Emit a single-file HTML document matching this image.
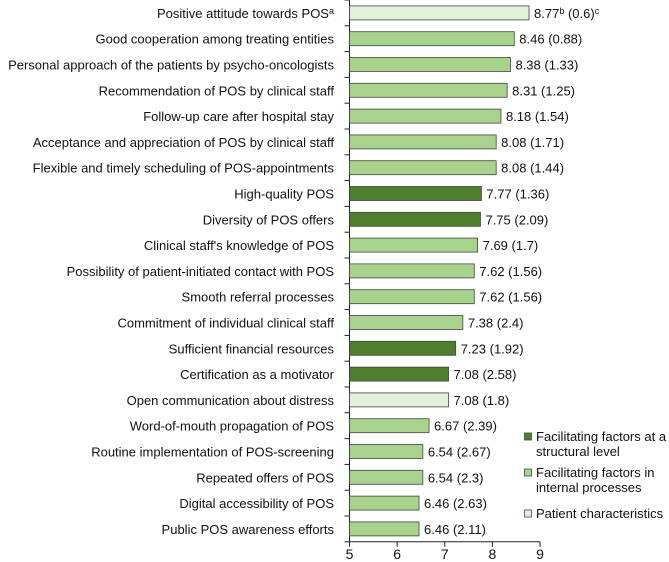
<!DOCTYPE html>
<html><head><meta charset="utf-8"><style>
body{margin:0;background:#fff;}
svg{display:block;font-family:"Liberation Sans",Arial,sans-serif;}
</style></head><body>
<svg id="chart" width="669" height="562" viewBox="0 0 669 562" xmlns="http://www.w3.org/2000/svg"></svg>
<script>
const categories=["Positive attitude towards POS","Good cooperation among treating entities","Personal approach of the patients by psycho-oncologists","Recommendation of POS by clinical staff","Follow-up care after hospital stay","Acceptance and appreciation of POS by clinical staff","Flexible and timely scheduling of POS-appointments","High-quality POS","Diversity of POS offers","Clinical staff's knowledge of POS","Possibility of patient-initiated contact with POS","Smooth referral processes","Commitment of individual clinical staff","Sufficient financial resources","Certification as a motivator","Open communication about distress","Word-of-mouth propagation of POS","Routine implementation of POS-screening","Repeated offers of POS","Digital accessibility of POS","Public POS awareness efforts"];
const means=[8.77,8.46,8.38,8.31,8.18,8.08,8.08,7.77,7.75,7.69,7.62,7.62,7.38,7.23,7.08,7.08,6.67,6.54,6.54,6.46,6.46];
const sds=["0.6","0.88","1.33","1.25","1.54","1.71","1.44","1.36","2.09","1.7","1.56","1.56","2.4","1.92","2.58","1.8","2.39","2.67","2.3","2.63","2.11"];
const groups=[2,1,1,1,1,1,1,0,0,1,1,1,1,0,0,2,1,1,1,1,1];
const xTicks=[5,6,7,8,9];
const legendLabels=[["Facilitating factors at a","structural level"],["Facilitating factors in","internal processes"],["Patient characteristics"]];
const colors=["#4e7f2c","#a8d38c","#e3f0da"];
const svg=document.getElementById('chart');const NS="http://www.w3.org/2000/svg";
const x0=349.5,x1=540,yTop=0,band=25.8;
const FS=13;
const xs=v=>x0+(v-5)/(9-5)*(x1-x0);
const yc=i=>yTop+band*i+band/2;
function mk(t,a,txt){const e=document.createElementNS(NS,t);for(const k in a)e.setAttribute(k,a[k]);if(txt!==undefined)e.textContent=txt;svg.appendChild(e);return e;}
const yBottom=yTop+band*categories.length;
let ax=mk('line',{x1:x0,y1:yTop,x2:x0,y2:yBottom,stroke:'#222','stroke-width':1});


for(let i=0;i<=categories.length;i++){let t=mk('line',{x1:x0-5,x2:x0,y1:yTop+band*i,y2:yTop+band*i,stroke:'#222'});

}
let xa=mk('line',{x1:x0,y1:yBottom,x2:x1,y2:yBottom,stroke:'#222'});


xTicks.forEach(v=>{let t=mk('line',{x1:xs(v),x2:xs(v),y1:yBottom,y2:yBottom+5,stroke:'#222'});


let l=mk('text',{x:xs(v),y:yBottom+17,'font-size':14,'text-anchor':'middle',fill:'#111'},String(v));

});
categories.forEach((c,i)=>{const y=yc(i);
let lab=mk('text',{x:334,y:y+5,'font-size':FS,'text-anchor':'end',fill:'#111'},c);


if(i===0){const s=document.createElementNS(NS,'tspan');s.setAttribute('font-size',9);s.setAttribute('dy',-4);s.textContent='a';lab.appendChild(s);}
let b=mk('rect',{x:x0,y:y-7,width:xs(means[i])-x0,height:14,fill:colors[groups[i]],stroke:'#444','stroke-width':0.8});


let v=mk('text',{x:xs(means[i])+5,y:y+5,'font-size':FS,fill:'#111'});


if(i===0){const parts=[[means[i].toFixed(2),FS,0],['b',9,-4],[' ('+sds[i]+')',FS,4],['c',9,-4]];parts.forEach(p=>{const s=document.createElementNS(NS,'tspan');s.setAttribute('font-size',p[1]);s.setAttribute('dy',p[2]);s.textContent=p[0];v.appendChild(s);});}
else v.textContent=means[i].toFixed(2)+' ('+sds[i]+')';});
const ly=[441,477,518];
legendLabels.forEach((ls,k)=>{let r=mk('rect',{x:524.5,y:ly[k]-8,width:7,height:7,fill:colors[k],stroke:'#444','stroke-width':0.8});


ls.forEach((t,j)=>{let e=mk('text',{x:536,y:ly[k]+j*15,'font-size':FS,fill:'#111'},t);

});});
</script>
</body></html>
